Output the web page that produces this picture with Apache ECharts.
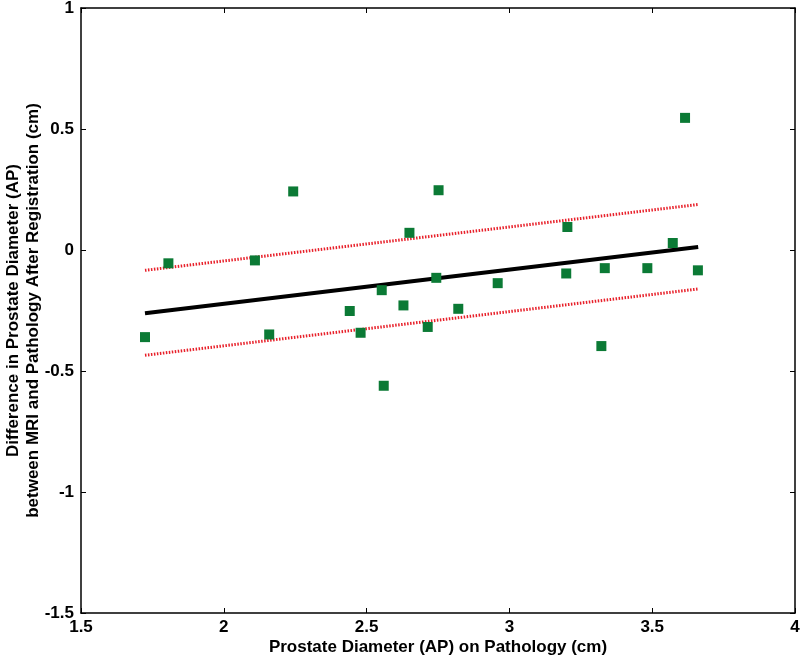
<!DOCTYPE html>
<html><head><meta charset="utf-8">
<script src="https://cdn.jsdelivr.net/npm/echarts@6/dist/echarts.min.js"></script>
<style>html,body{margin:0;padding:0;background:#fff}#c{width:800px;height:657px}</style>
</head><body><div id="c"></div>
<script>
const pathologyAP = [1.724,1.806,2.109,2.159,2.243,2.441,2.479,2.553,2.560,2.629,2.650,2.714,2.744,2.752,2.821,2.959,3.199,3.203,3.322,3.334,3.483,3.572,3.615,3.660];
const diffAP = [-0.360,-0.055,-0.043,-0.349,0.242,-0.252,-0.342,-0.166,-0.561,-0.229,0.071,-0.318,-0.115,0.247,-0.243,-0.137,-0.097,0.095,-0.397,-0.075,-0.075,0.029,0.546,-0.084];
const fitX = [1.724, 3.661];
const fitY = [-0.261, 0.012];
const upperY = [-0.084, 0.188];
const lowerY = [-0.435, -0.161];
const xTicks = [1.5, 2, 2.5, 3, 3.5, 4];
const yTicks = [-1.5, -1, -0.5, 0, 0.5, 1];

const font = 'Liberation Sans, Arial, sans-serif';
const chart = echarts.init(document.getElementById('c'));
const axisCommon = {
  axisLine: {show: true, onZero: false, lineStyle: {color: '#000', width: 1.5}},
  axisTick: {show: true, inside: true, length: 5, lineStyle: {color: '#000', width: 1}},
  splitLine: {show: false}
};
const zip = (a, b) => a.map((v, i) => [v, b[i]]);
chart.setOption({
  animation: false,
  grid: {left: 81, right: 5, top: 8, bottom: 44, containLabel: false, outerBoundsMode: 'none'},
  xAxis: [
    Object.assign({type: 'value', min: xTicks[0], max: xTicks[xTicks.length - 1], interval: 0.5, position: 'bottom',
      axisLabel: {color: '#000', fontFamily: font, fontWeight: 'bold', fontSize: 17, margin: 6,
        formatter: v => String(v)},
      name: 'Prostate Diameter (AP) on Pathology (cm)', nameLocation: 'middle', nameGap: 26, nameMoveOverlap: false,
      nameTextStyle: {color: '#000', fontFamily: font, fontWeight: 'bold', fontSize: 17}}, axisCommon),
    Object.assign({type: 'value', min: xTicks[0], max: xTicks[xTicks.length - 1], interval: 0.5, position: 'top',
      axisLabel: {show: false}}, axisCommon)
  ],
  yAxis: [
    Object.assign({type: 'value', min: yTicks[0], max: yTicks[yTicks.length - 1], interval: 0.5, position: 'left',
      axisLabel: {color: '#000', fontFamily: font, fontWeight: 'bold', fontSize: 17, margin: 7,
        formatter: v => String(v)},
      name: 'Difference in Prostate Diameter (AP)\nbetween MRI and Pathology After Registration (cm)',
      nameLocation: 'middle', nameGap: 38, nameMoveOverlap: false,
      nameTextStyle: {color: '#000', fontFamily: font, fontWeight: 'bold', fontSize: 17, lineHeight: 20}}, axisCommon),
    Object.assign({type: 'value', min: yTicks[0], max: yTicks[yTicks.length - 1], interval: 0.5, position: 'right',
      axisLabel: {show: false}}, axisCommon)
  ],
  series: [
    {type: 'line', data: zip(fitX, upperY), symbol: 'none', lineStyle: {color: '#e8202a', width: 3, type: [1.5, 1.5]}, z: 2},
    {type: 'line', data: zip(fitX, lowerY), symbol: 'none', lineStyle: {color: '#e8202a', width: 3, type: [1.5, 1.5]}, z: 2},
    {type: 'line', data: zip(fitX, fitY), symbol: 'none', lineStyle: {color: '#000', width: 4}, z: 3},
    {type: 'scatter', data: zip(pathologyAP, diffAP), symbol: 'rect', symbolSize: 10,
      itemStyle: {color: '#0b7a35', opacity: 1}, z: 4}
  ]
});
</script></body></html>
